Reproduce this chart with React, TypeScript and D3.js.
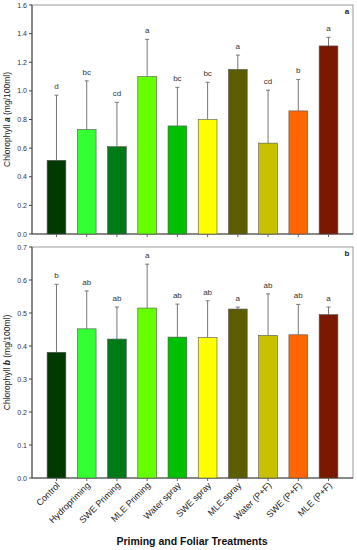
import React from "react"
import * as d3 from "d3"

const treatments = [
  "Control", "Hydropriming", "SWE Priming", "MLE Priming", "Water spray",
  "SWE spray", "MLE spray", "Water (P+F)", "SWE (P+F)", "MLE (P+F)",
]
const barColors = [
  "#003a00", "#33ff33", "#007a18", "#66ff00", "#00c000",
  "#ffff00", "#5c5c00", "#c8c000", "#ff6600", "#7a1800",
]

const chlA = [0.515, 0.73, 0.61, 1.10, 0.755, 0.80, 1.15, 0.635, 0.86, 1.314]
const chlAErr = [0.455, 0.34, 0.31, 0.26, 0.27, 0.26, 0.10, 0.37, 0.22, 0.06]
const chlALetters = ["d", "bc", "cd", "a", "bc", "bc", "a", "cd", "b", "a"]
const chlATicks = [0, 0.2, 0.4, 0.6, 0.8, 1.0, 1.2, 1.4, 1.6]

const chlB = [0.381, 0.452, 0.421, 0.515, 0.427, 0.426, 0.512, 0.432, 0.434, 0.495]
const chlBErr = [0.206, 0.115, 0.097, 0.133, 0.10, 0.111, 0.006, 0.126, 0.092, 0.023]
const chlBLetters = ["b", "ab", "ab", "a", "ab", "ab", "a", "ab", "ab", "a"]
const chlBTicks = [0, 0.1, 0.2, 0.3, 0.4, 0.5, 0.6, 0.7]

const font = "Liberation Sans, Arial, sans-serif"
const left = 32
const right = 353

const x = d3.scaleBand<string>()
  .domain(treatments)
  .range([left, right])
  .paddingInner(0.38)
  .paddingOuter(0.5)

interface IPanel {
  values: number[]
  errs: number[]
  letters: string[]
  ticks: number[]
  yMax: number
  top: number
  bottom: number
  tag: string
  showX: boolean
}

const Panel: React.FC<IPanel> = (props) => {
  const y = d3.scaleLinear().domain([0, props.yMax]).range([props.bottom, props.top])
  const fmt = d3.format(".1f")
  const mid = (props.top + props.bottom) / 2
  return (
    <g>
      {/* frame */}
      <rect x={left} y={props.top} width={right - left} height={props.bottom - props.top}
        fill="none" stroke="#9a9a9a" strokeWidth={1} />
      <line x1={left} x2={left} y1={props.top} y2={props.bottom} stroke="#444" />
      <line x1={left} x2={right} y1={props.bottom} y2={props.bottom} stroke="#444" />

      {/* y ticks */}
      {props.ticks.map(t => (
        <g key={t}>
          <line x1={left - 3} x2={left} y1={y(t)} y2={y(t)} stroke="#444" />
          <text x={left - 5} y={y(t) + 2.5} fontSize={7} textAnchor="end" fill="#333" fontFamily={font}>{fmt(t)}</text>
        </g>
      ))}

      {/* x ticks */}
      {treatments.map(c => (
        <line key={c} x1={x(c)! + x.bandwidth() / 2} x2={x(c)! + x.bandwidth() / 2}
          y1={props.bottom} y2={props.bottom + 3} stroke="#666" />
      ))}

      {/* error bars */}
      {treatments.map((c, i) => {
        const cx = x(c)! + x.bandwidth() / 2
        return (
          <g key={c} stroke="#777" strokeWidth={1}>
            <line x1={cx} x2={cx} y1={y(props.values[i])} y2={y(props.values[i] + props.errs[i])} />
            <line x1={cx - 2} x2={cx + 2} y1={y(props.values[i] + props.errs[i])} y2={y(props.values[i] + props.errs[i])} />
          </g>
        )
      })}

      {/* bars */}
      {treatments.map((c, i) => (
        <rect key={c} x={x(c)} y={y(props.values[i])} width={x.bandwidth()}
          height={props.bottom - y(props.values[i])} fill={barColors[i]} stroke="#555" strokeWidth={0.6} />
      ))}

      {/* significance letters */}
      {treatments.map((c, i) => (
        <text key={c} x={x(c)! + x.bandwidth() / 2} y={y(props.values[i] + props.errs[i]) - 6}
          fontSize={8} textAnchor="middle" fill="#333" fontFamily={font}>{props.letters[i]}</text>
      ))}

      <text x={right - 6} y={props.top + 9} fontSize={8} fontWeight="bold" textAnchor="middle" fill="#222" fontFamily={font}>{props.tag}</text>

      <text transform={`translate(10,${mid}) rotate(-90)`} fontSize={8.5} textAnchor="middle" fill="#222" fontFamily={font}>
        Chlorophyll <tspan fontWeight="bold" fontStyle="italic">{props.tag}</tspan>  (mg/100ml)
      </text>

      {props.showX && treatments.map(c => {
        const cx = x(c)! + x.bandwidth() / 2 + 4
        return (
          <text key={c} transform={`translate(${cx},${props.bottom + 8}) rotate(-45)`}
            fontSize={9} textAnchor="end" fill="#222" fontFamily={font}>{c}</text>
        )
      })}
    </g>
  )
}

export default function App() {
  return (
    <svg width={357} height={550} style={{ position: "absolute", left: 0, top: 0, background: "#fff" }}>
      <Panel values={chlA} errs={chlAErr} letters={chlALetters} ticks={chlATicks}
        yMax={1.6} top={5} bottom={234} tag="a" showX={false} />
      <Panel values={chlB} errs={chlBErr} letters={chlBLetters} ticks={chlBTicks}
        yMax={0.7} top={247} bottom={478} tag="b" showX={true} />
      <text x={192} y={545} fontSize={10.5} fontWeight="bold" textAnchor="middle" fill="#111" fontFamily={font}>
        Priming and Foliar Treatments
      </text>
    </svg>
  )
}
